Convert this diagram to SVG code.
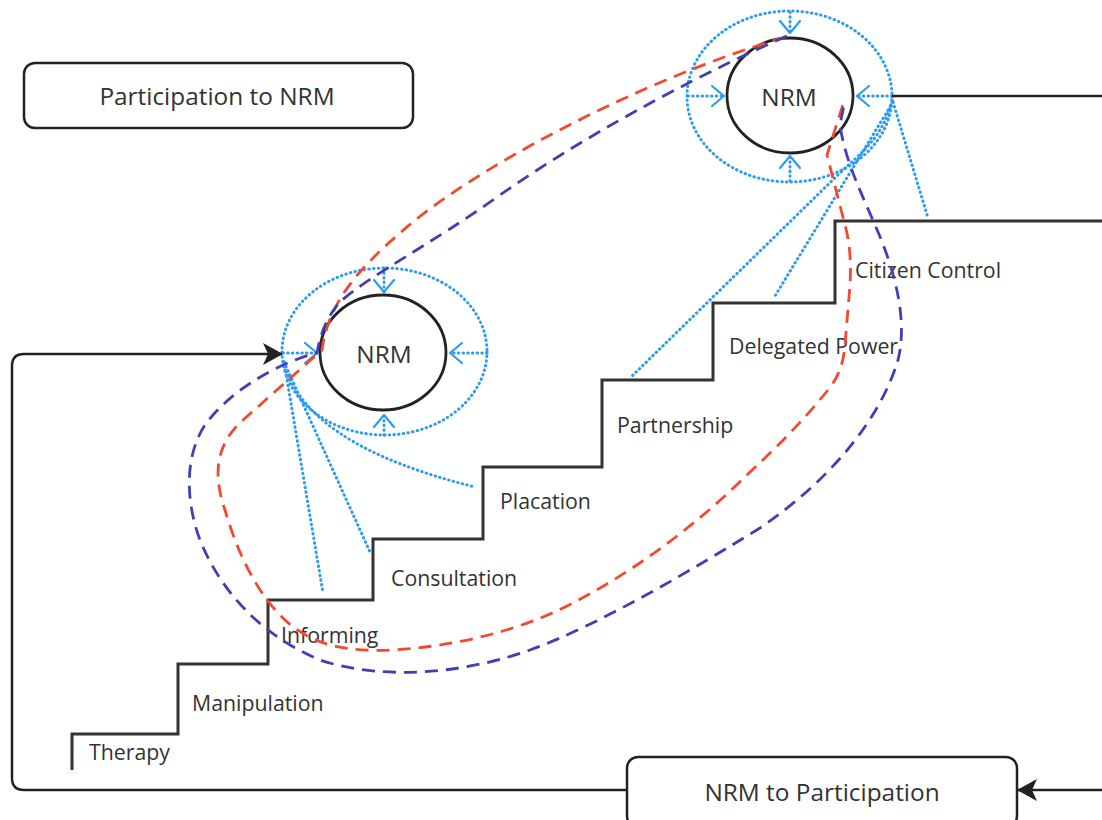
<svg xmlns="http://www.w3.org/2000/svg" width="1102" height="820" viewBox="0 0 1102 820">
<style>
text{font-family:"Open Sans","Noto Sans","Liberation Sans",sans-serif;fill:#333}
.lbl{font-size:21.3px}
.ttl{font-size:24.4px;text-anchor:middle}
.box{fill:#fff;stroke:#222;stroke-width:2.5}
.solid{fill:none;stroke:#222;stroke-width:2.5}
.stair{fill:none;stroke:#333;stroke-width:3}
.inner{fill:#fff;stroke:#222;stroke-width:2.8}
.dot{fill:none;stroke:#2d9cf0;stroke-width:3;stroke-dasharray:0.5 4.2;stroke-linecap:round}
.red{fill:none;stroke:#f24a30;stroke-width:2.8;stroke-dasharray:13 8}
.blue{fill:none;stroke:#4040b5;stroke-width:2.8;stroke-dasharray:13 8}
</style>
<defs>
<marker id="chev" viewBox="0 0 14 22" refX="13" refY="11" markerWidth="14" markerHeight="22" markerUnits="userSpaceOnUse" orient="auto">
<path d="M1,1 L13,11 L1,21" fill="none" stroke="#2d9cf0" stroke-width="2.2" stroke-linecap="round"/>
</marker>
<marker id="arr" viewBox="0 0 20 22" refX="19" refY="11" markerWidth="20" markerHeight="22" markerUnits="userSpaceOnUse" orient="auto">
<path d="M0,0 L20,11 L0,22 L5,11 z" fill="#222"/>
</marker>
</defs>
<rect width="1102" height="820" fill="#fff"/>

<g id="stairs">
<path class="stair" d="M72,770 V734 H178 V664 H268 V600 H373 V539 H483 V467 H602 V380 H713 V303 H835 V221 H1102"/>
<text class="lbl" x="89" y="760">Therapy</text>
<text class="lbl" x="192" y="711">Manipulation</text>
<text class="lbl" x="281" y="643">Informing</text>
<text class="lbl" x="391" y="586">Consultation</text>
<text class="lbl" x="500" y="509">Placation</text>
<text class="lbl" x="617" y="433">Partnership</text>
<text class="lbl" x="729" y="354">Delegated Power</text>
<text class="lbl" x="855" y="278">Citizen Control</text>
</g>

<g id="box-participation-to-nrm">
<rect class="box" x="24" y="63" width="389" height="65" rx="11"/>
<text class="ttl" x="217" y="105">Participation to NRM</text>
</g>

<g id="box-nrm-to-participation">
<rect class="box" x="627" y="757" width="390" height="70" rx="11"/>
<text class="ttl" x="822" y="801">NRM to Participation</text>
</g>

<g id="nrm-top">
<ellipse class="dot" cx="789.5" cy="96.5" rx="102.5" ry="85.5"/>
<ellipse class="inner" cx="790" cy="95.5" rx="63" ry="57.5"/>
<text class="ttl" x="789" y="106">NRM</text>
</g>

<g id="nrm-left">
<ellipse class="dot" cx="384.5" cy="351.5" rx="102.5" ry="83.5"/>
<ellipse class="inner" cx="383" cy="352.5" rx="63" ry="57.5"/>
<text class="ttl" x="384" y="363">NRM</text>
</g>

<g id="connectors">
<path class="dot" d="M790,12 V33" marker-end="url(#chev)"/>
<path class="dot" d="M688,96 H724" marker-end="url(#chev)"/>
<path class="dot" d="M892,96 H857" marker-end="url(#chev)"/>
<path class="dot" d="M790,181 V156" marker-end="url(#chev)"/>
<path class="dot" d="M384,268 V292" marker-end="url(#chev)"/>
<path class="dot" d="M283,353 H317" marker-end="url(#chev)"/>
<path class="dot" d="M487,353 H450" marker-end="url(#chev)"/>
<path class="dot" d="M384,435 V415" marker-end="url(#chev)"/>
<path class="dot" d="M892,100 C885,130 870,146 845,168 L630,378"/>
<path class="dot" d="M893,102 L775,296"/>
<path class="dot" d="M893,102 L928,218"/>
<path class="dot" d="M284,362 L323,593"/>
<path class="dot" d="M284,362 L370,552"/>
<path class="dot" d="M284,362 Q305,445 475,487"/>
<path class="solid" d="M627,790 H24 Q12,790 12,778 V366 Q12,354 24,354 H282" marker-end="url(#arr)"/>
<path class="solid" d="M1102,790 H1018" marker-end="url(#arr)"/>
<path class="solid" d="M892,96 H1102"/>
<path class="red" d="M785,37 C640,80 470,170 400,233 C355,272 328,305 322,350 L243,420 C215,445 213,475 225,510 C236,548 255,592 285,620 C312,645 345,652 392,650 C450,647 515,632 565,607 C635,572 700,522 750,472 C785,440 812,410 828,390 Q843,372 845,345 L850,285 Q852,250 845,225 L827,155 L845,98"/>
<path class="blue" d="M787,36 C720,65 600,125 500,195 C430,245 370,275 340,302 Q322,322 317,353 C280,362 230,390 205,425 C185,455 185,500 200,540 C220,590 260,635 320,660 C380,680 460,675 530,650 C600,625 700,565 760,528 C830,480 880,420 898,360 C908,320 895,270 875,225 C860,190 845,160 840,125 L845,100"/>
</g>
</svg>
